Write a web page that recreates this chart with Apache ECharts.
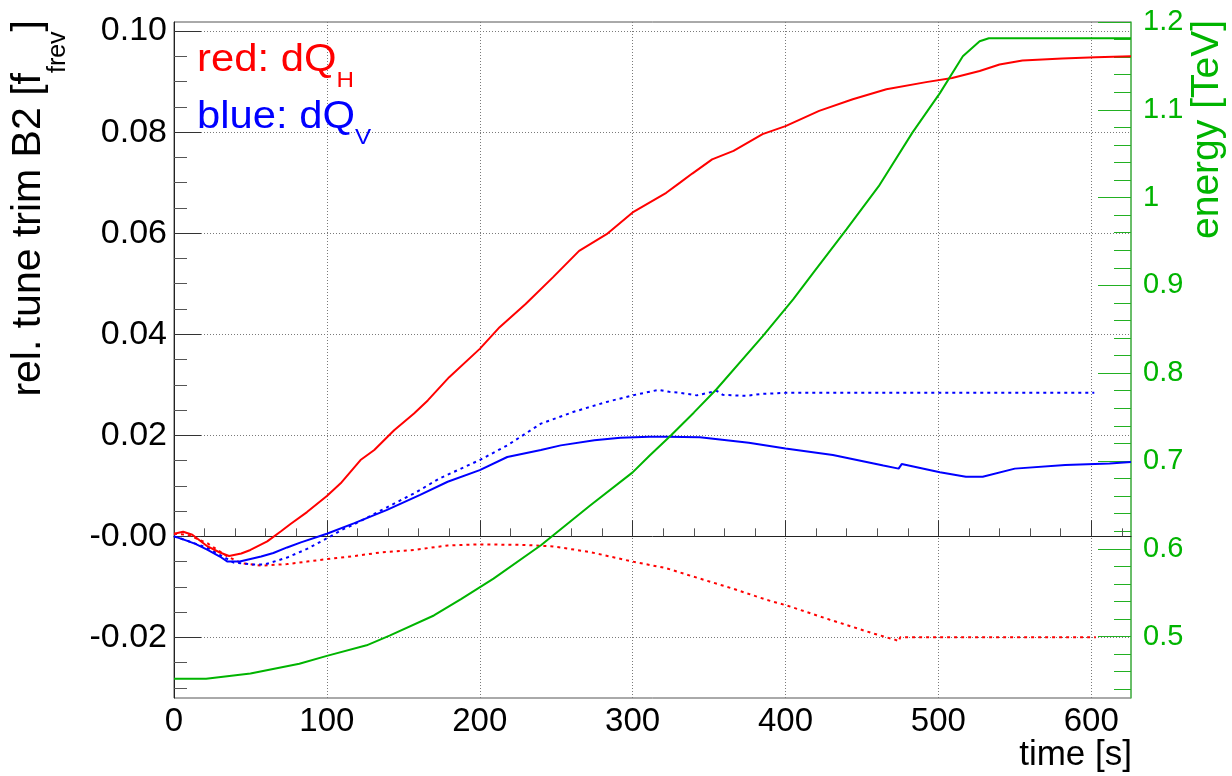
<!DOCTYPE html>
<html><head><meta charset="utf-8">
<script src="https://cdn.jsdelivr.net/npm/echarts@6/dist/echarts.min.js"></script>
<style>html,body{margin:0;padding:0;background:#fff}#c{width:1232px;height:776px}</style>
</head><body><div id="c"></div>
<script>
// ---------- data ----------
const redSolidT = [0,6,12,22,30,36,44,50,61,70,76,87,100,109,122,131,144,157,166,180,200,213,230,248,265,283,300,322,331,339,352,366,385,400,422,444,466,492,509,527,540,555,581,603,626];
const redSolidV = [0.0005,0.0009,0.0003,-0.0020,-0.0032,-0.0039,-0.0034,-0.0027,-0.0010,0.0010,0.0024,0.0048,0.0080,0.0105,0.0151,0.0171,0.0210,0.0243,0.0269,0.0315,0.0371,0.0414,0.0460,0.0513,0.0565,0.0598,0.0641,0.0680,0.0700,0.0718,0.0746,0.0763,0.0796,0.0812,0.0842,0.0865,0.0885,0.0899,0.0907,0.0921,0.0934,0.0942,0.0946,0.0948,0.0950];

const redDotT = [0,9,22,35,44,57,74,87,100,118,135,157,179,200,229,248,272,300,322,340,365,388,401,429,456,472,474,475,603];
const redDotV = [0.0005,0.0003,-0.0014,-0.0040,-0.0053,-0.0058,-0.0055,-0.0050,-0.0045,-0.0039,-0.0032,-0.0027,-0.0018,-0.0016,-0.0017,-0.0020,-0.0031,-0.0050,-0.0063,-0.0080,-0.0103,-0.0126,-0.0137,-0.0165,-0.0191,-0.0205,-0.0208,-0.0200,-0.0200];

const blueSolidT = [0,6,14,22,30,35,43,50,57,65,74,83,100,118,139,161,179,200,218,240,253,275,292,311,322,344,376,400,431,464,474,476,501,518,529,550,583,612,626];
const blueSolidV = [0,-0.0006,-0.0015,-0.0027,-0.0040,-0.0050,-0.0050,-0.0045,-0.0040,-0.0033,-0.0022,-0.0012,0.0005,0.0026,0.0052,0.0082,0.0108,0.0131,0.0157,0.0171,0.0180,0.0190,0.0195,0.0197,0.0197,0.0196,0.0185,0.0174,0.0161,0.0140,0.0134,0.0143,0.0127,0.0118,0.0118,0.0134,0.0141,0.0144,0.0147];

const blueDotT = [0,8,22,39,52,59,74,87,100,110,118,139,157,174,200,218,240,261,283,300,317,324,331,342,355,359,374,385,400,602];
const blueDotV = [0,-0.0008,-0.0023,-0.0052,-0.0056,-0.0056,-0.0042,-0.0025,-0.0004,0.0013,0.0024,0.0057,0.0085,0.0115,0.0151,0.0180,0.0223,0.0246,0.0266,0.0279,0.0290,0.0286,0.0284,0.0279,0.0288,0.0280,0.0278,0.0282,0.0284,0.0284];

const energyT = [0,21,50,82,100,126,141,170,188,209,240,272,300,311,325,340,355,385,405,418,440,461,483,501,516,527,533,626];
const energyV = [0.452,0.452,0.458,0.469,0.478,0.490,0.501,0.524,0.543,0.566,0.604,0.649,0.687,0.706,0.729,0.755,0.782,0.842,0.884,0.914,0.964,1.013,1.074,1.119,1.161,1.178,1.1815,1.1815];

// ---------- ticks ----------
const timeTicks = [0,100,200,300,400,500,600];
const timeTickLabels = ['0','100','200','300','400','500','600'];
const timeMinorTicks = [20,40,60,80,120,140,160,180,220,240,260,280,320,340,360,380,420,440,460,480,520,540,560,580,620];

const tuneTicks = [-0.02,0,0.02,0.04,0.06,0.08,0.10];
const tuneTickLabels = ['-0.02','-0.00','0.02','0.04','0.06','0.08','0.10'];
const tuneMinorTicks = [-0.03,-0.025,-0.015,-0.01,-0.005,0.005,0.01,0.015,0.025,0.03,0.035,0.045,0.05,0.055,0.065,0.07,0.075,0.085,0.09,0.095];

const energyTicks = [0.5,0.6,0.7,0.8,0.9,1.0,1.1,1.2];
const energyTickLabels = ['0.5','0.6','0.7','0.8','0.9','1','1.1','1.2'];
const energyMinorTicks = [0.44,0.46,0.48,0.52,0.54,0.56,0.58,0.62,0.64,0.66,0.68,0.72,0.74,0.76,0.78,0.82,0.84,0.86,0.88,0.92,0.94,0.96,0.98,1.02,1.04,1.06,1.08,1.12,1.14,1.16,1.18];

// ---------- build ----------
const F = '"Liberation Sans", Arial, Helvetica, sans-serif';
const GREEN = '#00b400';
const zip = (a, b) => a.map((t, i) => [t, b[i]]);
const lab = (ticks, labels) => v => { const i = ticks.findIndex(t => Math.abs(t - v) < 1e-9); return i >= 0 ? labels[i] : ''; };
const grid = {color: '#7a7a7a', type: [1, 2], width: 1};

const chart = echarts.init(document.getElementById('c'), null, {renderer: 'canvas'});
chart.setOption({
  animation: false,
  backgroundColor: '#fff',
  grid: {left: 174, right: 101, top: 22, bottom: 78, show: true, borderColor: '#555', borderWidth: 1, backgroundColor: 'transparent'},
  xAxis: [
    {type: 'value', min: 0, max: 626, position: 'bottom',
     axisLine: {show: true, lineStyle: {color: '#222', width: 1}},
     axisTick: {show: true, inside: true, length: 16, customValues: timeTicks, lineStyle: {color: '#333'}},
     axisLabel: {customValues: timeTicks, formatter: lab(timeTicks, timeTickLabels), fontFamily: F, fontSize: 33, color: '#000', margin: 7},
     splitLine: {show: true, lineStyle: grid}},
    {type: 'value', min: 0, max: 626, position: 'bottom',
     axisLine: {show: false},
     axisTick: {show: true, inside: true, length: 8, customValues: timeMinorTicks, lineStyle: {color: '#555'}},
     axisLabel: {show: false}, splitLine: {show: false}}
  ],
  yAxis: [
    {type: 'value', min: -0.032, max: 0.1018, position: 'left',
     axisLine: {show: true, lineStyle: {color: '#222', width: 1}},
     axisTick: {show: true, inside: true, length: 27, customValues: tuneTicks, lineStyle: {color: '#333'}},
     axisLabel: {customValues: tuneTicks, formatter: lab(tuneTicks, tuneTickLabels), fontFamily: F, fontSize: 34, color: '#000', margin: 7},
     splitLine: {show: true, lineStyle: grid}},
    {type: 'value', min: -0.032, max: 0.1018, position: 'left',
     axisLine: {show: false},
     axisTick: {show: true, inside: true, length: 13, customValues: tuneMinorTicks, lineStyle: {color: '#555'}},
     axisLabel: {show: false}, splitLine: {show: false}},
    {type: 'value', min: 0.43, max: 1.2, position: 'right',
     axisLine: {show: true, lineStyle: {color: '#55c455', width: 1.5}},
     axisTick: {show: true, inside: true, length: 33, customValues: energyTicks, lineStyle: {color: '#22b022'}},
     axisLabel: {customValues: energyTicks, formatter: lab(energyTicks, energyTickLabels), fontFamily: F, fontSize: 29, color: GREEN, margin: 12},
     splitLine: {show: false}},
    {type: 'value', min: 0.43, max: 1.2, position: 'right',
     axisLine: {show: false},
     axisTick: {show: true, inside: true, length: 17, customValues: energyMinorTicks, lineStyle: {color: '#22b022'}},
     axisLabel: {show: false}, splitLine: {show: false}}
  ],
  series: [
    {name: 'dQH dotted', type: 'line', xAxisIndex: 0, yAxisIndex: 0, data: zip(redDotT, redDotV), showSymbol: false, lineStyle: {color: '#ff0000', width: 2, type: [3, 4]}},
    {name: 'dQV dotted', type: 'line', xAxisIndex: 0, yAxisIndex: 0, data: zip(blueDotT, blueDotV), showSymbol: false, lineStyle: {color: '#0000ff', width: 2, type: [3, 4]}},
    {name: 'dQH', type: 'line', xAxisIndex: 0, yAxisIndex: 0, data: zip(redSolidT, redSolidV), showSymbol: false, lineStyle: {color: '#ff0000', width: 2}},
    {name: 'dQV', type: 'line', xAxisIndex: 0, yAxisIndex: 0, data: zip(blueSolidT, blueSolidV), showSymbol: false, lineStyle: {color: '#0000ff', width: 2}},
    {name: 'energy', type: 'line', xAxisIndex: 0, yAxisIndex: 2, data: zip(energyT, energyV), showSymbol: false, lineStyle: {color: GREEN, width: 2}}
  ],
  graphic: [
    {type: 'text', x: 197, y: 29, scaleX: 1.1, z: 100,
     style: {text: '{a|red: dQ}{s|H}', align: 'left', verticalAlign: 'top',
       rich: {a: {fontFamily: F, fontSize: 38, lineHeight: 63, fill: '#ff0000'},
              s: {fontFamily: F, fontSize: 22, lineHeight: 2, verticalAlign: 'bottom', fill: '#ff0000'}}}},
    {type: 'text', x: 197, y: 86, scaleX: 1.1, z: 100,
     style: {text: '{a|blue: dQ}{s|V}', align: 'left', verticalAlign: 'top',
       rich: {a: {fontFamily: F, fontSize: 38, lineHeight: 63, fill: '#0000ff'},
              s: {fontFamily: F, fontSize: 22, lineHeight: 2, verticalAlign: 'bottom', fill: '#0000ff'}}}},
    {type: 'text', x: -14, y: 20, rotation: Math.PI / 2, z: 100,
     style: {text: '{a|rel. tune trim B2 [f}{s|frev}{a|]}', align: 'right', verticalAlign: 'top',
       rich: {a: {fontFamily: F, fontSize: 41, lineHeight: 85, fill: '#000'},
              s: {fontFamily: F, fontSize: 25, lineHeight: 2, verticalAlign: 'bottom', fill: '#000'}}}},
    {type: 'text', x: 1188, y: 20, rotation: Math.PI / 2, z: 100,
     style: {text: 'energy [TeV]', fontFamily: F, fontSize: 39, lineHeight: 38, align: 'right', verticalAlign: 'top', fill: GREEN}},
    {type: 'text', x: 1132, y: 773, z: 100,
     style: {text: 'time [s]', fontFamily: F, fontSize: 35, align: 'right', verticalAlign: 'bottom', fill: '#000'}}
  ]
});
</script></body></html>
